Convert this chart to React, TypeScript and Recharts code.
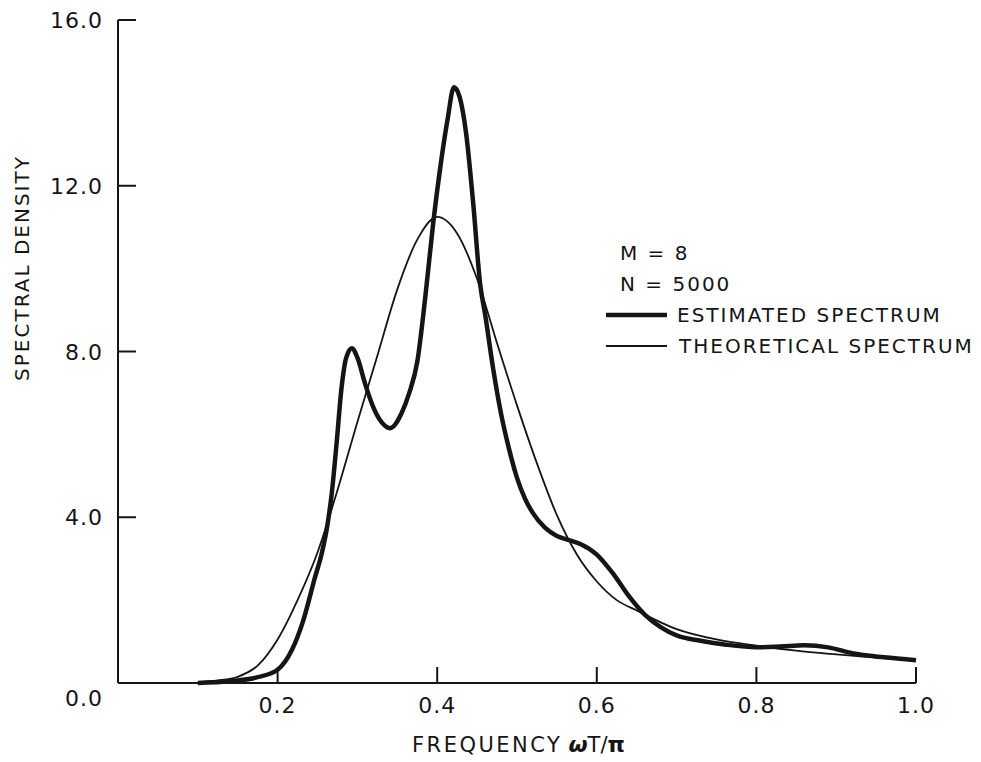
import React from "react";
import { LineChart, Line, XAxis, YAxis, Legend, Label } from "recharts";

// frequency axis (omega T / pi) and spectral density axis
const freqTicks = [0.2, 0.4, 0.6, 0.8, 1.0];
const densityTicks = [0, 4, 8, 12, 16];

// estimated spectrum, M = 8, N = 5000
const estFreq = [
  0.1, 0.14, 0.175, 0.2, 0.218, 0.232, 0.247, 0.255, 0.262, 0.268, 0.274, 0.28,
  0.286, 0.293, 0.3, 0.31, 0.32, 0.33, 0.341, 0.355, 0.365, 0.375, 0.385, 0.395,
  0.405, 0.413, 0.421, 0.428, 0.436, 0.445, 0.454, 0.46, 0.47, 0.48, 0.49, 0.5,
  0.51, 0.52, 0.535, 0.55, 0.565, 0.58, 0.6, 0.62, 0.64, 0.66, 0.68, 0.7,
  0.73, 0.76, 0.8, 0.83, 0.86, 0.89, 0.92, 0.96, 1.0,
];
const estDensity = [
  0.0, 0.04, 0.14, 0.32, 0.8, 1.5, 2.56, 3.1, 3.76, 4.6, 5.8, 7.1,
  7.85, 8.08, 7.85, 7.2, 6.65, 6.3, 6.15, 6.5, 7.0, 7.75, 9.3, 11.1,
  12.6, 13.6, 14.38, 14.15, 13.3, 11.6, 9.6, 8.9, 7.6, 6.5, 5.65, 4.95,
  4.45, 4.1, 3.75, 3.55, 3.45, 3.35, 3.1, 2.65, 2.1, 1.65, 1.35, 1.15,
  1.02, 0.93, 0.86, 0.88, 0.91, 0.86, 0.72, 0.62, 0.55,
];

// theoretical spectrum
const theoFreq = [
  0.1, 0.125, 0.15, 0.175, 0.2, 0.225, 0.25, 0.275, 0.3, 0.325, 0.35, 0.375,
  0.4, 0.425, 0.45, 0.475, 0.5, 0.525, 0.55, 0.575, 0.6, 0.625, 0.65, 0.7,
  0.75, 0.8, 0.85, 0.9, 0.95, 1.0,
];
const theoDensity = [
  0.02, 0.06, 0.15, 0.42, 1.05, 2.0, 3.15, 4.65, 6.3, 7.9, 9.5, 10.7,
  11.25, 10.85, 9.75, 8.2, 6.7, 5.3, 4.05, 3.1, 2.45, 2.0, 1.75, 1.3,
  1.05, 0.9, 0.78, 0.69, 0.61, 0.55,
];

const estimated = estFreq.map((f, i) => ({ f, v: estDensity[i] }));
const theoretical = theoFreq.map((f, i) => ({ f, v: theoDensity[i] }));

const FONT = "'DejaVu Sans', sans-serif";
const INK = "#151515";

function FreqTick(props: any) {
  const { x, y, payload } = props;
  return (
    <g>
      <line x1={x} x2={x} y1={y} y2={y - 16} stroke={INK} strokeWidth={2} />
      <text x={x} y={y + 30} textAnchor="middle" fontFamily={FONT} fontSize={22}
        letterSpacing={1} fill={INK}>
        {payload.value.toFixed(1)}
      </text>
    </g>
  );
}

function DensityTick(props: any) {
  const { x, y, payload } = props;
  const zero = payload.value === 0;
  return (
    <g>
      {!zero && <line x1={x} x2={x + 18} y1={y} y2={y} stroke={INK} strokeWidth={2} />}
      <text x={x - 15} y={zero ? y + 23 : y + 8} textAnchor="end" fontFamily={FONT}
        fontSize={22} letterSpacing={1} fill={INK}>
        {payload.value.toFixed(1)}
      </text>
    </g>
  );
}

function LegendBox() {
  const row = { display: "flex", alignItems: "center", height: 31 } as const;
  return (
    <div style={{ fontFamily: FONT, fontSize: 20, color: INK, letterSpacing: 2 }}>
      <div style={{ ...row, paddingLeft: 14 }}>M = 8</div>
      <div style={{ ...row, paddingLeft: 14 }}>N = 5000</div>
      <div style={row}>
        <svg width={71} height={10}>
          <line x1={0} x2={61} y1={5} y2={5} stroke={INK} strokeWidth={4.5} />
        </svg>
        ESTIMATED SPECTRUM
      </div>
      <div style={row}>
        <svg width={73} height={10}>
          <line x1={0} x2={61} y1={5} y2={5} stroke={INK} strokeWidth={1.8} />
        </svg>
        THEORETICAL SPECTRUM
      </div>
    </div>
  );
}

export default function App() {
  return (
    <div style={{ position: "absolute", left: 0, top: 0, background: "#fff" }}>
      <LineChart width={981} height={762} margin={{ top: 20, right: 65, bottom: 0, left: 0 }}>
        <XAxis
          type="number"
          dataKey="f"
          domain={[0, 1]}
          ticks={freqTicks}
          interval={0}
          height={79}
          tickSize={0}
          tickMargin={0}
          tickLine={false}
          axisLine={{ stroke: INK, strokeWidth: 2 }}
          tick={<FreqTick />}
        >
          <Label
            content={(p: any) => {
              const vb = p.viewBox;
              return (
                <text x={vb.x + 294} y={vb.y + 69} textAnchor="start" fontFamily={FONT}
                  fontSize={21} letterSpacing={2.5} fill={INK}>
                  FREQUENCY
                  <tspan dx={6} fontWeight="bold" fontStyle="italic" fontSize={22}
                    letterSpacing={0}>ω</tspan>
                  <tspan letterSpacing={0}>T/</tspan>
                  <tspan fontWeight="bold" fontSize={22} letterSpacing={0}>π</tspan>
                </text>
              );
            }}
          />
        </XAxis>
        <YAxis
          type="number"
          domain={[0, 16]}
          ticks={densityTicks}
          interval={0}
          width={118}
          tickSize={0}
          tickMargin={0}
          tickLine={false}
          axisLine={{ stroke: INK, strokeWidth: 2 }}
          tick={<DensityTick />}
        >
          <Label
            content={(p: any) => {
              const vb = p.viewBox;
              const cx = vb.x + 22;
              const cy = vb.y + 248;
              return (
                <text x={cx} y={cy} transform={`rotate(-90 ${cx} ${cy})`} textAnchor="middle"
                  dominantBaseline="central" fontFamily={FONT} fontSize={20}
                  letterSpacing={2} fill={INK}>
                  SPECTRAL DENSITY
                </text>
              );
            }}
          />
        </YAxis>
        <Legend
          layout="horizontal"
          verticalAlign="middle"
          align="center"
          content={() => <LegendBox />}
          wrapperStyle={{ left: 606, top: 237, width: 375 }}
        />
        <Line
          data={theoretical}
          dataKey="v"
          type="monotone"
          stroke={INK}
          strokeWidth={1.8}
          dot={false}
          isAnimationActive={false}
        />
        <Line
          data={estimated}
          dataKey="v"
          type="monotone"
          stroke={INK}
          strokeWidth={4.5}
          dot={false}
          isAnimationActive={false}
        />
      </LineChart>
    </div>
  );
}
